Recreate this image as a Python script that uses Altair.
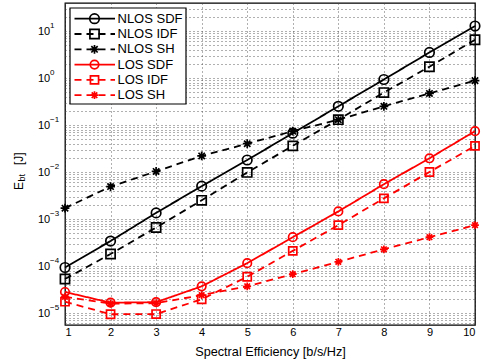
import altair as alt
import pandas as pd

# ---- data ----
x_vals = [1, 2, 3, 4, 5, 6, 7, 8, 9, 10]
series_names = ["NLOS SDF", "NLOS IDF", "NLOS SH", "LOS SDF", "LOS IDF", "LOS SH"]
nlos_sdf = [9.3e-5, 3.4e-4, 1.35e-3, 5.0e-3, 1.8e-2, 6.7e-2, 0.25, 0.93, 3.5, 12.8]
nlos_idf = [5.3e-5, 1.8e-4, 6.6e-4, 2.5e-3, 9.8e-3, 3.6e-2, 0.13, 0.49, 1.74, 6.5]
nlos_sh = [1.7e-3, 4.9e-3, 1.03e-2, 2.2e-2, 4.0e-2, 7.4e-2, 0.13, 0.25, 0.47, 0.88]
los_sdf = [2.8e-5, 1.66e-5, 1.7e-5, 3.7e-5, 1.15e-4, 4.1e-4, 1.45e-3, 5.5e-3, 1.96e-2, 7.4e-2]
los_idf = [1.74e-5, 9.4e-6, 9.5e-6, 1.96e-5, 5.9e-5, 2.1e-4, 7.4e-4, 2.75e-3, 1.0e-2, 3.6e-2]
los_sh = [2.2e-5, 1.58e-5, 1.62e-5, 2.4e-5, 3.7e-5, 6.7e-5, 1.23e-4, 2.27e-4, 4.1e-4, 7.4e-4]
decade_exps = [-5, -4, -3, -2, -1, 0, 1]
x_title = "Spectral Efficiency [b/s/Hz]"

all_series = [nlos_sdf, nlos_idf, nlos_sh, los_sdf, los_idf, los_sh]
rows = []
for name, vals in zip(series_names, all_series):
    for xv, yv in zip(x_vals, vals):
        rows.append({"x": xv, "y": yv, "series": name})
df = pd.DataFrame(rows)

legend_df = pd.DataFrame({"series": series_names, "row": list(range(len(series_names)))})

dec_df = pd.DataFrame({
    "v": [10.0 ** e for e in decade_exps],
    "exp": [str(e).replace("-", "\u2212") for e in decade_exps],
})

# ---- styles ----
FONT = "Liberation Sans"
ASTER = "M-1,0L1,0M0,-1L0,1M-0.72,-0.72L0.72,0.72M-0.72,0.72L0.72,-0.72"
colors = ["#000000", "#000000", "#000000", "#ff0000", "#ff0000", "#ff0000"]
dashes = [[1, 0], [7, 5], [7, 5], [1, 0], [7, 5], [7, 5]]
shapes = ["circle", "square", ASTER, "circle", "square", ASTER]
sizes = [90, 60, 90, 90, 60, 90]
swidths = [1.7, 1.7, 3.0, 1.7, 1.7, 3.0]

ymin, ymax = 10 ** -5.255, 10 ** 1.596
grid_vals = [m * 10.0 ** k for k in range(-6, 2) for m in range(1, 10) if ymin <= m * 10.0 ** k <= ymax]

GRID = dict(gridColor="#444444", gridOpacity=0.85, gridDash=[1, 3], gridWidth=1)

color_enc = alt.Color("series:N", scale=alt.Scale(domain=series_names, range=colors), legend=None)
dash_enc = alt.StrokeDash("series:N", scale=alt.Scale(domain=series_names, range=dashes), legend=None)
shape_enc = alt.Shape("series:N", scale=alt.Scale(domain=series_names, range=shapes), legend=None)
size_enc = alt.Size("series:N", scale=alt.Scale(domain=series_names, range=sizes), legend=None)
sw_enc = alt.StrokeWidth("series:N", scale=alt.Scale(domain=series_names, range=swidths), legend=None)

x_axis = alt.Axis(values=x_vals, title=x_title, grid=True, ticks=False, domain=False,
                  labelPadding=1, titlePadding=8, labelFontSize=11, titleFontSize=12.7,
                  titleFontWeight="normal", labelFont=FONT, titleFont=FONT,
                  labelColor="black", titleColor="black", **GRID)
x_scale = alt.Scale(domain=[1, 10], nice=False)
y_scale = alt.Scale(type="log", domain=[ymin, ymax], nice=False)
y_axis = alt.Axis(values=grid_vals, labels=False, ticks=False, domain=False, title=None,
                  grid=True, **GRID)

x_enc = alt.X("x:Q", scale=x_scale, axis=x_axis)
y_enc = alt.Y("y:Q", scale=y_scale, axis=y_axis)

base = alt.Chart(df)
lines = base.mark_line(strokeWidth=1.8).encode(x=x_enc, y=y_enc, color=color_enc,
                                               strokeDash=dash_enc, detail="series:N")
points = base.mark_point(filled=False, opacity=1).encode(
    x=x_enc, y=y_enc, color=color_enc, shape=shape_enc, size=size_enc, strokeWidth=sw_enc)

# y tick labels (10 with superscript exponent)
dec_base = alt.Chart(dec_df)
ylab10 = dec_base.mark_text(text="10", align="left", baseline="alphabetic", dy=4,
                            fontSize=11, font=FONT, color="black").encode(
    x=alt.value(-27), y=alt.Y("v:Q", scale=y_scale, axis=y_axis))
ylabexp = dec_base.mark_text(align="left", baseline="alphabetic", dy=-3,
                             fontSize=8, font=FONT, color="black").encode(
    x=alt.value(-15), y=alt.Y("v:Q", scale=y_scale, axis=y_axis), text="exp:N")

# y axis title E_bt [J]
ytitle_E = alt.Chart(pd.DataFrame({"t": ["E"]})).mark_text(
    angle=270, align="left", baseline="alphabetic", fontSize=12, font=FONT, color="black").encode(
    x=alt.value(-42), y=alt.value(187), text="t:N")
ytitle_bt = alt.Chart(pd.DataFrame({"t": ["bt"]})).mark_text(
    angle=270, align="left", baseline="alphabetic", fontSize=9, font=FONT, color="black").encode(
    x=alt.value(-40), y=alt.value(178.5), text="t:N")
ytitle_J = alt.Chart(pd.DataFrame({"t": ["[J]"]})).mark_text(
    angle=270, align="left", baseline="alphabetic", fontSize=12, font=FONT, color="black").encode(
    x=alt.value(-42.5), y=alt.value(162), text="t:N")

# legend
leg_base = alt.Chart(legend_df).transform_calculate(ly="15.7 + 15.3 * datum.row")
leg_box = alt.Chart(pd.DataFrame({"a": [0]})).mark_rect(
    fill="white", stroke="black", strokeWidth=1.2).encode(
    x=alt.value(5), x2=alt.value(121), y=alt.value(5), y2=alt.value(101))
leg_lines = leg_base.mark_rule(strokeWidth=1.8).encode(
    x=alt.value(9.5), x2=alt.value(50), y=alt.Y("ly:Q", scale=None),
    color=color_enc, strokeDash=dash_enc)
leg_pts = leg_base.mark_point(filled=False, opacity=1).encode(
    x=alt.value(29.5), y=alt.Y("ly:Q", scale=None),
    color=color_enc, shape=shape_enc, size=size_enc, strokeWidth=sw_enc)
leg_txt = leg_base.mark_text(align="left", baseline="middle", fontSize=13, font=FONT,
                             color="black").encode(
    x=alt.value(52.5), y=alt.Y("ly:Q", scale=None), text="series:N")

chart = alt.layer(
    lines, points, ylab10, ylabexp, ytitle_E, ytitle_bt, ytitle_J,
    leg_box, leg_lines, leg_pts, leg_txt
).properties(
    width=410, height=322,
    autosize=alt.AutoSizeParams(type="none"),
    padding={"left": 65, "top": 3, "right": 6, "bottom": 38},
    background="white",
).configure_view(stroke="black", strokeWidth=1.3)

chart.save("out.html", embed_options={"renderer": "svg", "actions": False})
